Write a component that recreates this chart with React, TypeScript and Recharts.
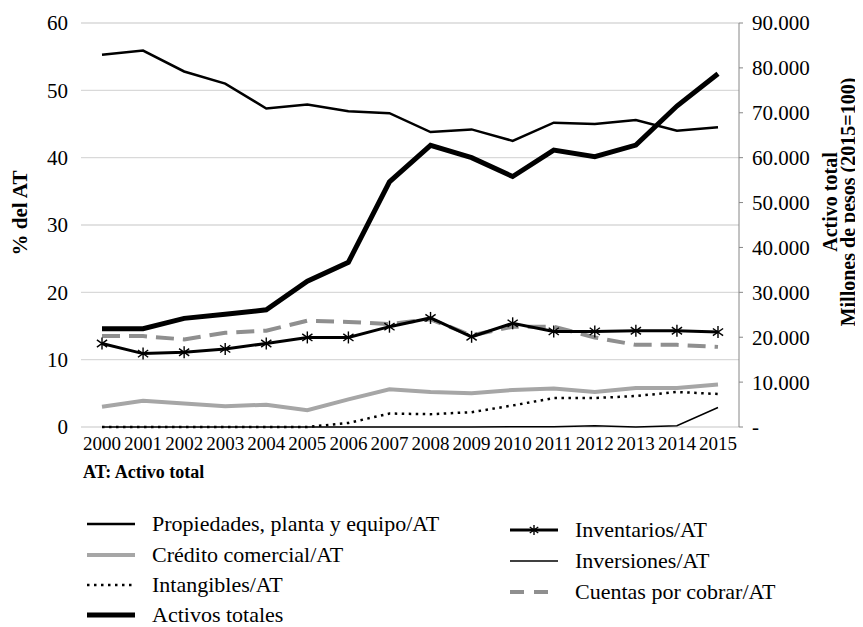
import { LineChart, Line, XAxis, YAxis, CartesianGrid } from "recharts";

const years = ["2000", "2001", "2002", "2003", "2004", "2005", "2006", "2007", "2008", "2009", "2010", "2011", "2012", "2013", "2014", "2015"];

// % del activo total
const propiedades = [55.3, 55.9, 52.8, 51.0, 47.3, 47.9, 46.9, 46.6, 43.8, 44.2, 42.5, 45.2, 45.0, 45.6, 44.0, 44.5];
const credito = [3.0, 3.9, 3.5, 3.1, 3.3, 2.5, 4.1, 5.6, 5.2, 5.0, 5.5, 5.7, 5.2, 5.8, 5.8, 6.3];
const intangibles = [0, 0, 0, 0, 0, 0, 0.6, 2.0, 1.9, 2.2, 3.2, 4.3, 4.3, 4.6, 5.2, 4.9];
const inventarios = [12.4, 10.9, 11.1, 11.6, 12.4, 13.3, 13.3, 14.9, 16.2, 13.4, 15.4, 14.2, 14.2, 14.3, 14.3, 14.1];
const inversiones = [0, 0, 0, 0, 0, 0, 0, 0, 0, 0, 0.05, 0.05, 0.2, 0, 0.2, 2.9];
const cuentas = [13.5, 13.5, 13.0, 14.0, 14.3, 15.8, 15.6, 15.3, 16.0, 13.6, 14.9, 14.9, 13.3, 12.2, 12.2, 11.9];

// millones de pesos (2015=100)
const activos = [21900, 21900, 24200, 25100, 26100, 32500, 36700, 54600, 62750, 60000, 55800, 61700, 60200, 62800, 71500, 78700];

const leftTicks = [0, 10, 20, 30, 40, 50, 60];
const rightTicks = [0, 10000, 20000, 30000, 40000, 50000, 60000, 70000, 80000, 90000];

const data = years.map((year, i) => ({
  year,
  propiedades: propiedades[i],
  credito: credito[i],
  intangibles: intangibles[i],
  activos: activos[i],
  inventarios: inventarios[i],
  inversiones: inversiones[i],
  cuentas: cuentas[i],
}));

const FONT = "Liberation Serif, DejaVu Serif, Times New Roman, serif";

function fmtMiles(v: number): string {
  if (v === 0) return "-";
  return String(v).replace(/\B(?=(\d{3})+(?!\d))/g, ".");
}

function Star({ cx, cy, size = 6 }: { cx?: number; cy?: number; size?: number }) {
  if (cx == null || cy == null) return null;
  const s = size;
  return (
    <g stroke="#000" strokeWidth={1.4}>
      <line x1={cx} y1={cy - s} x2={cx} y2={cy + s} />
      <line x1={cx - s * 0.85} y1={cy - s * 0.6} x2={cx + s * 0.85} y2={cy + s * 0.6} />
      <line x1={cx - s * 0.85} y1={cy + s * 0.6} x2={cx + s * 0.85} y2={cy - s * 0.6} />
    </g>
  );
}

const legendLeft = [
  { name: "Propiedades, planta y equipo/AT", stroke: "#000", width: 2.5 },
  { name: "Crédito comercial/AT", stroke: "#a6a6a6", width: 4 },
  { name: "Intangibles/AT", stroke: "#000", width: 2.5, dash: "2.5 4.5" },
  { name: "Activos totales", stroke: "#000", width: 5 },
];
const legendRight = [
  { name: "Inventarios/AT", stroke: "#000", width: 3, star: true },
  { name: "Inversiones/AT", stroke: "#000", width: 1.5 },
  { name: "Cuentas por cobrar/AT", stroke: "#8f8f8f", width: 4, dash: "14 10" },
];

function LegendItem({ item, x, y }: { item: any; x: number; y: number }) {
  return (
    <div style={{ position: "absolute", left: x, top: y - 14, height: 28, display: "flex", alignItems: "center", whiteSpace: "nowrap" }}>
      <svg width={50} height={28} style={{ marginRight: 16 }}>
        <line x1={1} y1={14} x2={49} y2={14} stroke={item.stroke} strokeWidth={item.width} strokeDasharray={item.dash} />
        {item.star && <Star cx={25} cy={14} size={5} />}
      </svg>
      <span style={{ fontFamily: FONT, fontSize: 22, color: "#000" }}>{item.name}</span>
    </div>
  );
}

export default function App() {
  return (
    <div style={{ position: "relative", width: 855, height: 619, fontFamily: FONT }}>
      <LineChart width={855} height={480} data={data} margin={{ top: 15, right: 0, bottom: 31, left: 0 }} style={{ fontFamily: FONT }}>
        <CartesianGrid yAxisId="left" vertical={false} stroke="#d9d9d9" strokeWidth={1.3} />
        <XAxis
          dataKey="year"
          interval={0}
          padding={{ left: 21, right: 21 }}
          axisLine={false}
          tickLine={false}
          tickMargin={4}
          height={30}
          tick={{ fill: "#000", fontSize: 19, fontFamily: FONT }}
        />
        <YAxis
          yAxisId="left"
          width={73}
          domain={[0, 60]}
          ticks={leftTicks}
          axisLine={false}
          tickLine={false}
          tickMargin={7}
          tick={{ fill: "#000", fontSize: 21, fontFamily: FONT }}
          label={{
            content: () => (
              <text x={12} y={205} transform="rotate(-90 12 205)" textAnchor="middle" dominantBaseline="central" fontFamily={FONT} fontSize={21} fontWeight="bold" fill="#000">
                % del AT
              </text>
            ),
          }}
        />
        <YAxis
          yAxisId="right"
          orientation="right"
          width={124}
          domain={[0, 90000]}
          ticks={rightTicks}
          tickFormatter={fmtMiles}
          axisLine={{ stroke: "#868686" }}
          tickLine={{ stroke: "#868686" }}
          tickSize={4}
          tickMargin={9}
          tick={{ fill: "#000", fontSize: 21, fontFamily: FONT }}
          label={{
            content: () => (
              <g fontFamily={FONT} fontSize={20} fontWeight="bold" fill="#000">
                <text x={822} y={194} transform="rotate(-90 822 194)" textAnchor="middle" dominantBaseline="central">
                  Activo total
                </text>
                <text x={840} y={194} transform="rotate(-90 840 194)" textAnchor="middle" dominantBaseline="central">
                  Millones de pesos (2015=100)
                </text>
              </g>
            ),
          }}
        />
        <Line yAxisId="left" type="linear" dataKey="propiedades" stroke="#000" strokeWidth={2.5} dot={false} isAnimationActive={false} />
        <Line yAxisId="left" type="linear" dataKey="credito" stroke="#a6a6a6" strokeWidth={4} dot={false} isAnimationActive={false} />
        <Line yAxisId="left" type="linear" dataKey="intangibles" stroke="#000" strokeWidth={2.5} strokeDasharray="2.5 4.5" dot={false} isAnimationActive={false} />
        <Line yAxisId="right" type="linear" dataKey="activos" stroke="#000" strokeWidth={5} dot={false} isAnimationActive={false} />
        <Line yAxisId="left" type="linear" dataKey="cuentas" stroke="#8f8f8f" strokeWidth={4} strokeDasharray="18 9" dot={false} isAnimationActive={false} />
        <Line yAxisId="left" type="linear" dataKey="inventarios" stroke="#000" strokeWidth={3} dot={(p: any) => <Star key={p.index} cx={p.cx} cy={p.cy} />} isAnimationActive={false} />
        <Line yAxisId="left" type="linear" dataKey="inversiones" stroke="#000" strokeWidth={1.5} dot={false} isAnimationActive={false} />
      </LineChart>
      <div style={{ position: "absolute", left: 75, top: 452, fontFamily: FONT, fontSize: 18, fontWeight: "bold", lineHeight: "24px" }}>
        AT: Activo total
      </div>
      {legendLeft.map((item, i) => (
        <LegendItem key={item.name} item={item} x={78} y={[516, 547, 577, 607][i]} />
      ))}
      {legendRight.map((item, i) => (
        <LegendItem key={item.name} item={item} x={501} y={[522, 553, 584][i]} />
      ))}
    </div>
  );
}
